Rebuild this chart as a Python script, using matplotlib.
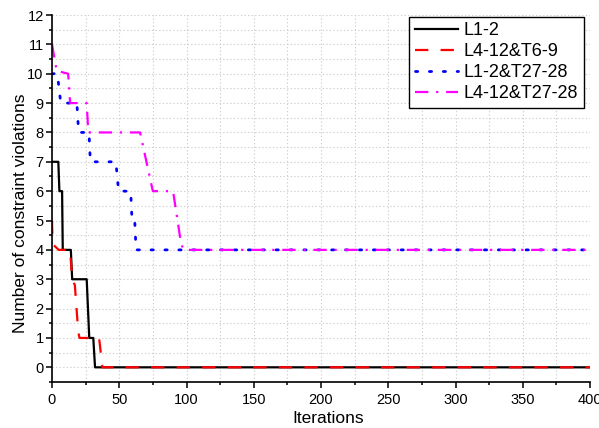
import matplotlib
matplotlib.use('Agg')
import matplotlib.pyplot as plt
from matplotlib.ticker import MultipleLocator

plt.rcParams['font.family'] = ['Liberation Sans', 'DejaVu Sans']

# iteration / violation pairs
x_l12 = [0, 4.7, 5.5, 7.5, 8, 14, 15, 25.8, 27.7, 30.7, 32, 400]
y_l12 = [7, 7, 6, 6, 4, 4, 3, 3, 1, 1, 0, 0]

x_l412_t69 = [0, 0.4, 5, 13.4, 15, 17, 19.5, 20.5, 35, 37.5, 400]
y_l412_t69 = [5, 4.2, 4, 4, 3, 2.8, 1.2, 1, 1, 0, 0]

x_l12_t2728 = [0, 4, 6.5, 18.5, 19.8, 27.5, 28.5, 47.5, 49.5, 58.5, 59.5, 61.5, 62.5, 400]
y_l12_t2728 = [10, 10, 9, 9, 8, 8, 7, 7, 6, 6, 5, 5, 4, 4]

x_l412_t2728 = [0, 3.5, 12, 13.5, 25.8, 27, 65.5, 74, 75, 90, 96, 98, 400]
y_l412_t2728 = [11, 10.1, 10, 9, 9, 8, 8, 6.2, 6, 6, 4.2, 4, 4]

labels = ['L1-2', 'L4-12&T6-9', 'L1-2&T27-28', 'L4-12&T27-28']

fig = plt.figure(figsize=(5.99, 4.28), dpi=100)
ax = fig.add_axes([52 / 599, 1 - 382 / 428, 538 / 599, 367 / 428])

ax.plot(x_l12, y_l12, color='black', lw=1.6, label=labels[0])
ax.plot(x_l412_t69, y_l412_t69, color='red', lw=1.6, dashes=(6, 5.5), label=labels[1])
ax.plot(x_l12_t2728, y_l12_t2728, color='blue', lw=2.0, dashes=(0.8, 4.2),
        dash_capstyle='round', label=labels[2])
ax.plot(x_l412_t2728, y_l412_t2728, color='magenta', lw=1.6,
        dashes=(6, 3.5, 1, 3.5), label=labels[3])

ax.set_xlim(0, 400)
ax.set_ylim(-0.5, 12)
ax.xaxis.set_major_locator(MultipleLocator(50))
ax.xaxis.set_minor_locator(MultipleLocator(25))
ax.yaxis.set_major_locator(MultipleLocator(1))
ax.yaxis.set_minor_locator(MultipleLocator(0.5))

ax.grid(True, which='both', color='#cfcfcf', linestyle=(0, (1.2, 2.0)), lw=0.8)
ax.set_axisbelow(True)

for s in ['top', 'right']:
    ax.spines[s].set_visible(False)
for s in ['left', 'bottom']:
    ax.spines[s].set_linewidth(1.2)

ax.tick_params(which='major', direction='out', length=4.5, width=1.1, labelsize=10.5)
ax.tick_params(which='minor', direction='out', length=2.3, width=1.1)
ax.tick_params(axis='y', which='major', pad=1.5)

ax.set_xlabel('Iterations', fontsize=12.5)
ax.xaxis.set_label_coords(0.513, -0.079)
ax.set_ylabel('Number of constraint violations', fontsize=12.5)
ax.yaxis.set_label_coords(-0.045, 0.46)

leg = ax.legend(loc='upper right', fontsize=13, frameon=True, fancybox=False,
                edgecolor='black', framealpha=1, handlelength=2.4,
                borderpad=0.3, labelspacing=0.22, handletextpad=0.3,
                bbox_to_anchor=(0.988, 0.995), borderaxespad=0)
leg.get_frame().set_linewidth(1.0)

plt.savefig('out.png', dpi=100)
